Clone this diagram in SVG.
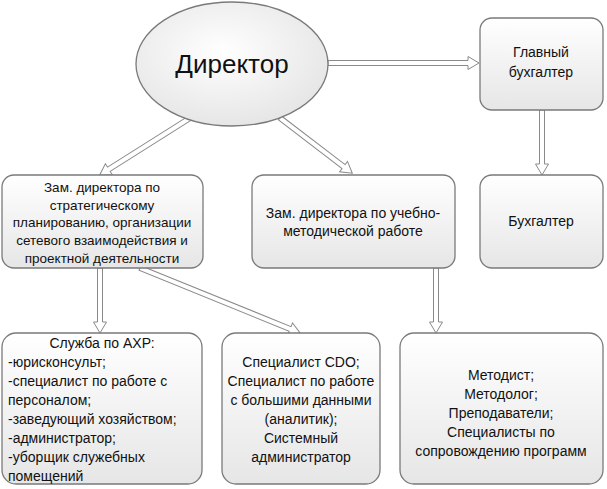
<svg xmlns="http://www.w3.org/2000/svg" width="607" height="489" viewBox="0 0 607 489">
<defs>
<linearGradient id="g" x1="0" y1="0" x2="0" y2="1"><stop offset="0" stop-color="#ffffff"/><stop offset="1" stop-color="#e6e6e6"/></linearGradient>
<radialGradient id="ge" cx="0.45" cy="0.4" r="0.7"><stop offset="0" stop-color="#ffffff"/><stop offset="1" stop-color="#e2e2e2"/></radialGradient>
</defs>
<style>
.b{fill:url(#g);stroke:#7a7a7a;stroke-width:1.3}
.t{font-family:"Liberation Sans",Arial,sans-serif;font-size:14px;fill:#111;text-anchor:middle}
.l{text-anchor:start}
.a{fill:#fff;stroke:#8a8a8a;stroke-width:1}
</style>
<rect width="607" height="489" fill="#fff"/>
<g id="connectors">
<g transform="translate(328,63)"><polygon class="a" points="0,-2.5 140,-2.5 140,-6.5 151,0 140,6.5 140,2.5 0,2.5"/></g>
<g transform="translate(190,118) rotate(147.7)"><polygon class="a" points="0,-2.5 96,-2.5 96,-6.5 107,0 96,6.5 96,2.5 0,2.5"/></g>
<g transform="translate(280,118) rotate(37.4)"><polygon class="a" points="0,-2.5 80,-2.5 80,-6.5 91,0 80,6.5 80,2.5 0,2.5"/></g>
<g transform="translate(542,110) rotate(90)"><polygon class="a" points="0,-2.5 54,-2.5 54,-6.5 65,0 54,6.5 54,2.5 0,2.5"/></g>
<g transform="translate(100,268) rotate(90)"><polygon class="a" points="0,-2.5 54,-2.5 54,-6.5 65,0 54,6.5 54,2.5 0,2.5"/></g>
<g transform="translate(140,268) rotate(22.1)"><polygon class="a" points="0,-2.5 162,-2.5 162,-6.5 173,0 162,6.5 162,2.5 0,2.5"/></g>
<g transform="translate(436,268) rotate(90)"><polygon class="a" points="0,-2.5 54,-2.5 54,-6.5 65,0 54,6.5 54,2.5 0,2.5"/></g>
</g>
<g id="director"><ellipse cx="232" cy="64" rx="96" ry="62" fill="url(#ge)" stroke="#7a7a7a" stroke-width="1.3"/><text class="t" x="232" y="73" style="font-size:26px">Директор</text></g>
<g id="chief"><rect class="b" x="480" y="18" width="123" height="92" rx="12"/><text class="t" x="541" y="57">Главный</text><text class="t" x="541" y="77">бухгалтер</text></g>
<g id="accountant"><rect class="b" x="480" y="175" width="123" height="93" rx="12"/><text class="t" x="541" y="226">Бухгалтер</text></g>
<g id="dep1"><rect class="b" x="2" y="175" width="201" height="93" rx="12"/>
<g class="t" style="font-size:13.5px"><text x="102" y="192">Зам. директора по</text><text x="102" y="210">стратегическому</text><text x="102" y="227">планированию, организации</text><text x="102" y="245">сетевого взаимодействия и</text><text x="102" y="263">проектной деятельности</text></g></g>
<g id="dep2"><rect class="b" x="252" y="175" width="203" height="93" rx="12"/><text class="t" x="353" y="218">Зам. директора по  учебно-</text><text class="t" x="353" y="236">методической работе</text></g>
<g id="axr"><rect class="b" x="2" y="333" width="200" height="151" rx="14"/>
<text class="t" x="102" y="348">Служба по АХР:</text>
<text class="t l" x="8" y="367">-юрисконсульт;</text>
<text class="t l" x="8" y="386">-специалист по работе с</text>
<text class="t l" x="8" y="405">персоналом;</text>
<text class="t l" x="8" y="424">-заведующий хозяйством;</text>
<text class="t l" x="8" y="443">-администратор;</text>
<text class="t l" x="8" y="462">-уборщик служебных</text>
<text class="t l" x="8" y="481">помещений</text>
</g>
<g id="cdo"><rect class="b" x="222" y="333" width="158" height="151" rx="14"/>
<text class="t" x="301" y="367">Специалист CDO;</text><text class="t" x="301" y="386">Специалист по работе</text><text class="t" x="301" y="405">с большими данными</text><text class="t" x="301" y="424">(аналитик);</text><text class="t" x="301" y="443">Системный</text><text class="t" x="301" y="462">администратор</text></g>
<g id="method"><rect class="b" x="400" y="333" width="203" height="151" rx="14"/>
<text class="t" x="501" y="380">Методист;</text><text class="t" x="501" y="399">Методолог;</text><text class="t" x="501" y="418">Преподаватели;</text><text class="t" x="501" y="437">Специалисты по</text><text class="t" x="501" y="456">сопровождению программ</text></g>
</svg>
